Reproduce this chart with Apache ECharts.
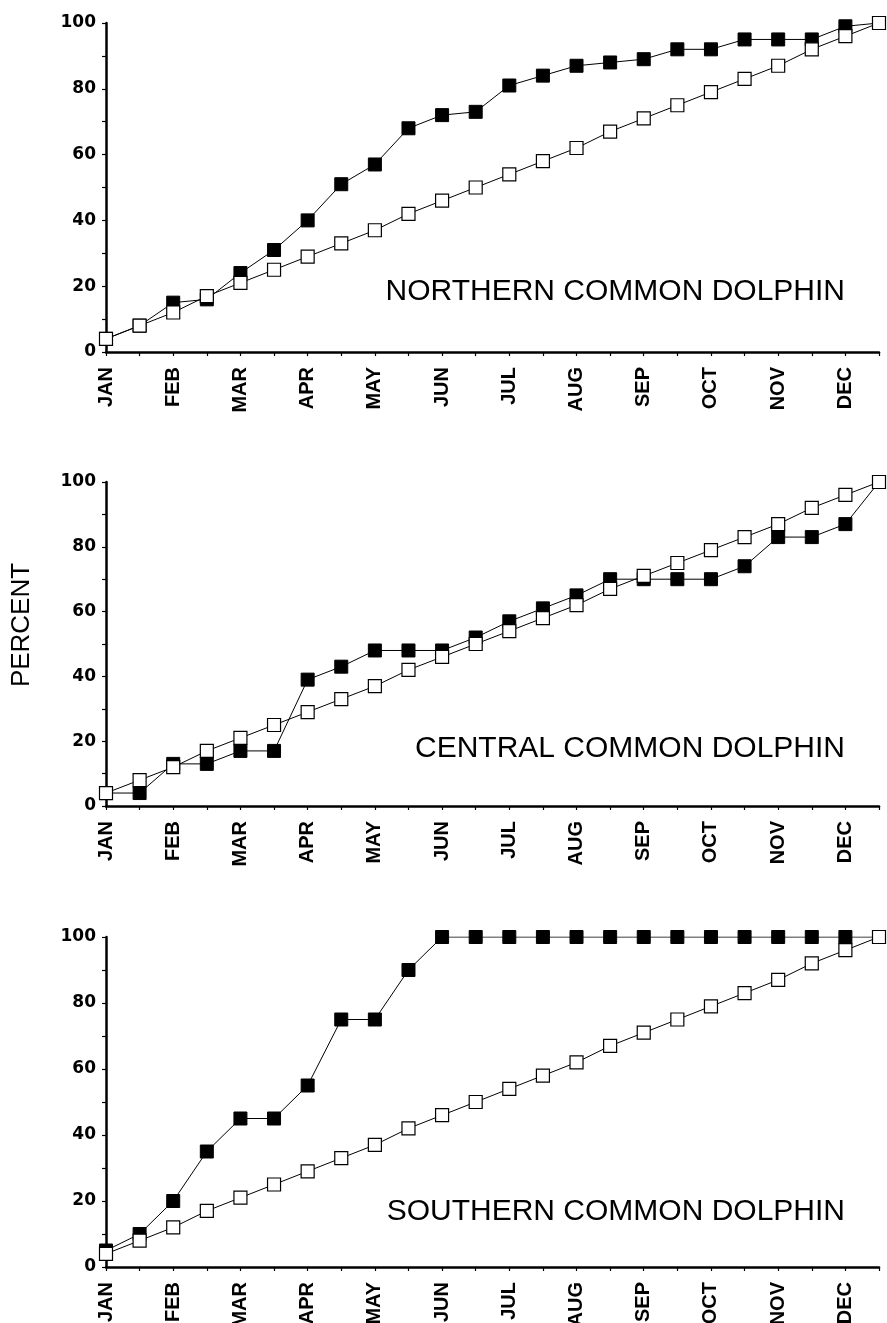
<!DOCTYPE html>
<html>
<head>
<meta charset="utf-8">
<script src="https://cdn.jsdelivr.net/npm/echarts@6/dist/echarts.min.js"></script>
<style>
html,body{margin:0;padding:0;background:#fff;}
#chart{width:887px;height:1323px;}
</style>
</head>
<body>
<div id="chart"></div>
<script>
// Half-month steps; month labels on every other step
const categories = ['JAN','','FEB','','MAR','','APR','','MAY','','JUN','','JUL','','AUG','','SEP','','OCT','','NOV','','DEC',''];
const yTicks = [0, 20, 40, 60, 80, 100];

// Open squares (same reference curve in every panel)
const expected = [4, 8, 12, 17, 21, 25, 29, 33, 37, 42, 46, 50, 54, 58, 62, 67, 71, 75, 79, 83, 87, 92, 96, 100];

// Filled squares
const northern = [4, 8, 15, 16, 24, 31, 40, 51, 57, 68, 72, 73, 81, 84, 87, 88, 89, 92, 92, 95, 95, 95, 99, 100];
const central  = [4, 4, 13, 13, 17, 17, 39, 43, 48, 48, 48, 52, 57, 61, 65, 70, 70, 70, 70, 74, 83, 83, 87, 100];
const southern = [5, 10, 20, 35, 45, 45, 55, 75, 75, 90, 100, 100, 100, 100, 100, 100, 100, 100, 100, 100, 100, 100, 100, 100];

const panelTitles = ['NORTHERN COMMON DOLPHIN', 'CENTRAL COMMON DOLPHIN', 'SOUTHERN COMMON DOLPHIN'];
const panelData = [northern, central, southern];

const grids = [
  {left: 106, right: 8, top: 23, height: 329, outerBoundsMode: 'none', containLabel: false},
  {left: 106, right: 8, top: 482, height: 324, outerBoundsMode: 'none', containLabel: false},
  {left: 106, right: 8, top: 937, height: 330, outerBoundsMode: 'none', containLabel: false}
];
const titleY = [292, 749, 1212];

const chart = echarts.init(document.getElementById('chart'), null, {renderer: 'canvas'});

const xAxes = [], yAxes = [], series = [], graphics = [];
grids.forEach((g, i) => {
  xAxes.push({
    type: 'category', gridIndex: i, data: categories, boundaryGap: false,
    axisLine: {lineStyle: {color: '#000', width: 2.5}},
    axisTick: {show: true, interval: 0, length: 4, lineStyle: {color: '#000', width: 1.2}},
    axisLabel: {
      interval: 0, rotate: 90, margin: 15, color: '#000',
      fontFamily: '"Liberation Sans Narrow", "Liberation Sans", Arial, sans-serif',
      fontWeight: 'bold', fontSize: 20
    },
    splitLine: {show: false}
  });
  yAxes.push({
    type: 'value', gridIndex: i, min: 0, max: 100, interval: 10,
    axisLine: {show: true, lineStyle: {color: '#000', width: 2.5}},
    axisTick: {show: true, length: 4, lineStyle: {color: '#000', width: 1.2}},
    axisLabel: {
      color: '#000', margin: 10, fontSize: 17, fontWeight: 'bold',
      fontFamily: '"DejaVu Sans", Arial, sans-serif',
      formatter: v => (yTicks.indexOf(v) >= 0 ? String(v) : '')
    },
    splitLine: {show: false}
  });
  series.push({
    type: 'line', xAxisIndex: i, yAxisIndex: i, data: panelData[i],
    symbol: 'rect', symbolSize: 13, z: 2,
    lineStyle: {color: '#000', width: 1},
    itemStyle: {color: '#000', borderColor: '#000', borderWidth: 1},
    emphasis: {disabled: true}, animation: false
  });
  series.push({
    type: 'line', xAxisIndex: i, yAxisIndex: i, data: expected,
    symbol: 'rect', symbolSize: 13, z: 3,
    lineStyle: {color: '#000', width: 1},
    itemStyle: {color: '#fff', borderColor: '#000', borderWidth: 1.2},
    emphasis: {disabled: true}, animation: false
  });
  graphics.push({
    type: 'text', x: 845, y: titleY[i], z: 10,
    style: {
      text: panelTitles[i], textAlign: 'right', textVerticalAlign: 'middle',
      fill: '#000', font: '30px "Liberation Sans", Arial, sans-serif'
    }
  });
});

graphics.push({
  type: 'text', x: 22, y: 625, rotation: Math.PI / 2,
  style: {
    text: 'PERCENT', textAlign: 'center', textVerticalAlign: 'middle',
    fill: '#000', font: '26px "Liberation Sans", Arial, sans-serif'
  }
});

chart.setOption({
  animation: false,
  backgroundColor: '#fff',
  grid: grids,
  xAxis: xAxes,
  yAxis: yAxes,
  series: series,
  graphic: graphics
});
</script>
</body>
</html>
